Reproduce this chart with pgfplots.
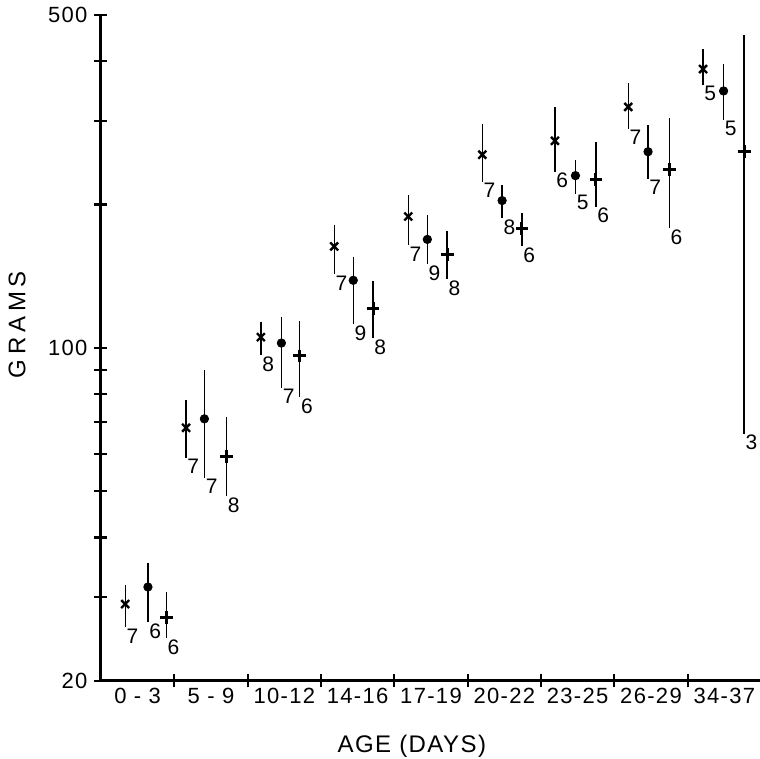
\documentclass[border=0pt]{standalone}
\usepackage{fontspec}
\setmainfont{Liberation Sans}[LetterSpace=6]
\usepackage{pgfplots}
\pgfplotsset{compat=1.18}
\usepackage{pgfplotstable}

% x position, mean, lower and upper end of the bar, sample size
\pgfplotstableread{
x y lo hi n
0.33 29.0 25.9 31.8 7
1.16 68.0 58.8 77.8 7
2.18 105.4 96.6 113.3 8
3.18 163.4 142.8 181.6 7
4.19 188.8 164.2 209.8 7
5.20 254.5 223.4 295.4 7
6.19 272.2 234.5 320.6 6
7.19 320.6 288.4 359.8 7
8.21 385.0 356.5 424.0 5
}\crossdata

\pgfplotstableread{
x y lo hi n
0.64 31.5 26.6 35.3 6
1.41 71.0 53.4 89.9 7
2.46 102.4 82.4 116.1 7
3.44 138.7 112.2 154.9 9
4.45 169.0 149.8 190.6 9
5.47 203.9 187.0 220.2 8
6.47 230.0 210.8 248.4 5
7.46 258.2 226.7 294.1 7
8.49 346.4 301.2 394.5 5
}\dotdata

\pgfplotstableread{
x y lo hi n
0.89 27.2 24.6 30.7 6
1.71 59.1 48.8 71.7 8
2.71 96.2 78.9 113.8 6
3.71 121.2 104.9 138.0 8
4.72 157.2 139.3 175.6 8
5.74 178.2 163.4 192.5 6
6.75 225.6 198.1 270.9 6
7.75 236.7 178.2 304.2 6
8.77 258.2 66.1 453.6 3
}\plusdata

\pgfplotsset{
  range/.style={only marks, black,
    error bars/y dir=both, error bars/y explicit,
    error bars/error mark=none,
    error bars/error bar style={line width=0.65pt}},
  count/.style={only marks, mark=none, point meta=explicit symbolic,
    nodes near coords,
    nodes near coords style={anchor=north west, inner sep=0.5pt,
      font=\fontsize{10.5}{12}\selectfont}},
}

\begin{document}
\begin{tikzpicture}
\useasboundingbox (-50.5pt,-39pt) rectangle (329.5pt,340.5pt);
\begin{axis}[
  scale only axis, width=330pt, height=333pt,
  xmin=0, xmax=9,
  ymode=log, ymin=20, ymax=500,
  axis x line*=bottom, axis y line*=left,
  axis line style={line width=1.5pt},
  every tick/.style={black, line width=1.1pt},
  tick align=center,
  major tick length=6.5pt, minor tick length=6.5pt,
  xtick={1,2,3,4,5,6,7,8}, xticklabels={},
  extra x ticks={0.5,1.5,2.5,3.5,4.5,5.5,6.5,7.5,8.5},
  extra x tick labels={0 - 3, 5 - 9, 10-12, 14-16, 17-19, 20-22, 23-25, 26-29, 34-37},
  extra x tick style={major tick length=0pt},
  ytick={20,100,500}, yticklabels={20,100,500},
  minor ytick={30,40,50,60,70,80,90,200,300,400},
  ticklabel style={font=\fontsize{11}{13}\selectfont},
  /pgf/number format/assume math mode=true,
  xlabel={AGE (DAYS)}, ylabel={GRAMS},
  label style={font=\fontsize{12}{14}\selectfont},
  xlabel style={at={(axis description cs:0.471,0)}, anchor=center, yshift=-32.5pt},
  ylabel style={at={(axis description cs:0,0.535)}, anchor=center, yshift=42pt,
    font=\fontsize{12}{14}\selectfont\addfontfeatures{LetterSpace=20}},
  clip=false,
]
\addplot[range, mark=x, mark size=2.8pt, mark options={line width=1.2pt}]
  table[x=x, y=y, y error plus expr=\thisrow{hi}-\thisrow{y},
        y error minus expr=\thisrow{y}-\thisrow{lo}] {\crossdata};
\addplot[range, mark=*, mark size=2.1pt]
  table[x=x, y=y, y error plus expr=\thisrow{hi}-\thisrow{y},
        y error minus expr=\thisrow{y}-\thisrow{lo}] {\dotdata};
\addplot[range, mark=+, mark size=3.2pt, mark options={line width=1.5pt}]
  table[x=x, y=y, y error plus expr=\thisrow{hi}-\thisrow{y},
        y error minus expr=\thisrow{y}-\thisrow{lo}] {\plusdata};
\addplot[count] table[x=x, y=lo, meta=n] {\crossdata};
\addplot[count] table[x=x, y=lo, meta=n] {\dotdata};
\addplot[count] table[x=x, y=lo, meta=n] {\plusdata};
\end{axis}
\end{tikzpicture}
\end{document}
